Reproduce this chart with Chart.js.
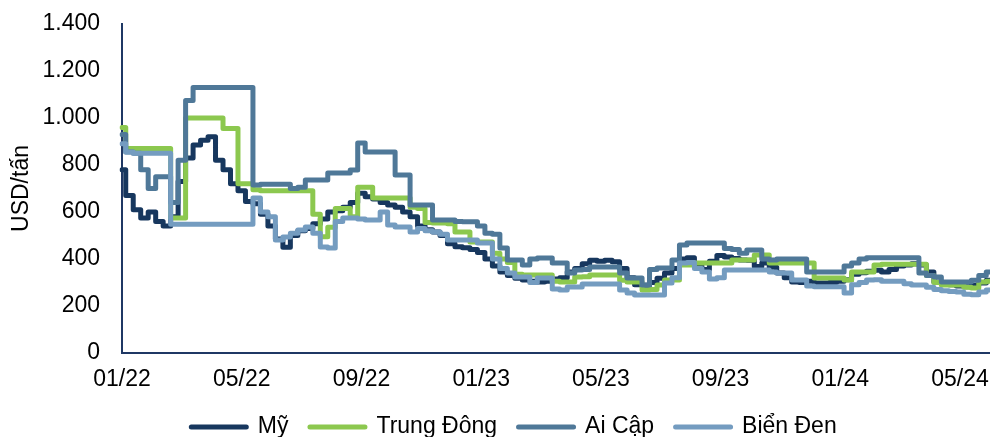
<!DOCTYPE html>
<html lang="vi">
<head>
<meta charset="utf-8">
<title>Giá theo khu vực</title>
<script src="https://cdn.jsdelivr.net/npm/chart.js@4.4.1/dist/chart.umd.min.js"></script>
<style>
  html, body { margin: 0; padding: 0; background: #fff; }
  #wrap { width: 990px; height: 437px; }
</style>
</head>
<body>
<div id="wrap"><canvas id="priceChart"></canvas></div>
<script>
// Weekly prices (USD/tấn), about four points per month, from 01/2022
const tickLabels = ['01/22', '05/22', '09/22', '01/23', '05/23', '09/23', '01/24', '05/24'];
const pointsPerTick = 16;

const my = [
  780, 670, 610, 575, 600, 560, 540, 580, 730, 830,
  885, 905, 920, 820, 780, 720, 690, 645, 635, 590,
  540, 485, 450, 500, 520, 530, 550, 570, 600, 605,
  620, 640, 680, 665, 655, 640, 630, 620, 600, 580,
  540, 525, 515, 500, 465, 452, 448, 440, 428, 400,
  370, 345, 330, 318, 311, 305, 302, 305, 315, 320,
  345, 360, 380, 395, 390, 395, 388, 360, 320, 290,
  288, 300, 318, 340, 360, 400, 405, 370, 355, 390,
  415, 408, 402, 396, 395, 368, 383, 365, 340, 320,
  302, 300, 305, 298, 298, 300, 305, 312, 335, 342,
  348, 352, 345, 355, 370, 375, 380, 375, 345, 302,
  298, 290, 285, 282, 288, 298, 310
];

const trungDong = [
  960, 870, 870, 870, 870, 870, 870, 575, 575, 1000,
  1000, 1000, 1000, 1000, 955, 955, 720, 720, 695, 690,
  690, 690, 690, 690, 690, 690, 590, 495, 535, 615,
  615, 580, 705, 705, 660, 660, 660, 660, 660, 620,
  615, 555, 553, 553, 550, 515, 515, 472, 472, 472,
  425, 400, 385, 335, 332, 332, 332, 332, 305, 302,
  302, 323, 325, 332, 332, 332, 332, 310, 302, 302,
  268, 270, 289, 311, 311, 374, 375, 383, 383, 383,
  383, 383, 396, 396, 396, 417, 417, 383, 383, 383,
  383, 383, 383, 319, 319, 319, 319, 311, 345, 345,
  345, 374, 378, 378, 378, 378, 378, 378, 330, 300,
  289, 289, 289, 280, 277, 302, 305
];

const aiCap = [
  930, 855, 850, 780, 700, 750, 750, 640, 820, 1075,
  1130, 1130, 1130, 1130, 1130, 1130, 1130, 1130, 715, 718,
  718, 718, 718, 700, 705, 736, 736, 736, 766, 766,
  766, 779, 894, 855, 855, 855, 855, 757, 757, 630,
  630, 630, 566, 566, 566, 560, 558, 558, 540, 510,
  505, 447, 396, 396, 374, 400, 404, 404, 383, 383,
  340, 353, 355, 366, 366, 366, 366, 340, 319, 319,
  289, 355, 362, 362, 396, 460, 468, 468, 468, 468,
  468, 445, 440, 425, 438, 438, 400, 396, 400, 400,
  400, 400, 345, 345, 345, 345, 345, 370, 383, 400,
  405, 405, 405, 405, 405, 405, 405, 340, 330, 323,
  302, 302, 302, 302, 310, 330, 345
];

const bienDen = [
  890, 855, 850, 850, 850, 850, 850, 548, 548, 548,
  548, 548, 548, 548, 548, 548, 548, 548, 660, 600,
  580, 481, 494, 510, 523, 536, 510, 451, 447, 560,
  575, 575, 570, 566, 566, 600, 545, 536, 536, 515,
  530, 520, 515, 505, 481, 481, 481, 481, 468, 468,
  400, 360, 340, 323, 323, 300, 319, 319, 272, 268,
  281, 281, 294, 294, 294, 294, 294, 268, 255, 247,
  247, 247, 247, 298, 320, 383, 385, 360, 345, 315,
  320, 353, 353, 353, 353, 353, 353, 345, 340, 340,
  311, 311, 285, 282, 282, 282, 282, 255, 290, 300,
  311, 312, 305, 305, 305, 295, 289, 289, 280, 270,
  265, 262, 260, 250, 248, 260, 268
];

const labels = my.map((_, i) => (i % pointsPerTick === 0 ? tickLabels[i / pointsPerTick] : ''));

const axisColor = '#1f3864';
Chart.defaults.font.family = "'Liberation Sans', Arial, sans-serif";
Chart.defaults.font.size = 23;
Chart.defaults.color = '#000';

function series(label, data, color, order) {
  return {
    label: label,
    data: data,
    borderColor: color,
    backgroundColor: color,
    borderWidth: 5,
    borderJoinStyle: 'round',
    borderCapStyle: 'round',
    pointRadius: 0,
    stepped: 'middle',
    order: order
  };
}

// nudge the legend row to the right, under the plot
const legendShift = {
  id: 'legendShift',
  afterLayout(chart) {
    const lg = chart.legend;
    if (!lg) return;
    lg.left += 19;
    lg.right += 19;
  }
};

new Chart(document.getElementById('priceChart'), {
  type: 'line',
  data: {
    labels: labels,
    datasets: [
      series('Mỹ', my, '#17375e', 4),
      series('Trung Đông', trungDong, '#8cc84f', 3),
      series('Ai Cập', aiCap, '#4f7898', 2),
      series('Biển Đen', bienDen, '#749cc0', 1)
    ]
  },
  options: {
    responsive: true,
    maintainAspectRatio: false,
    animation: false,
    events: [],
    layout: { padding: { top: 24, right: 0, left: 0, bottom: 0 } },
    plugins: {
      tooltip: { enabled: false },
      legend: {
        position: 'bottom',
        maxHeight: 43,
        labels: {
          usePointStyle: true,
          pointStyle: 'line',
          pointStyleWidth: 55,
          padding: 21.5,
          sort: (a, b) => a.datasetIndex - b.datasetIndex,
          generateLabels(chart) {
            return Chart.defaults.plugins.legend.labels.generateLabels(chart)
              .map(item => Object.assign(item, { lineWidth: 5, lineCap: 'round' }));
          }
        }
      }
    },
    scales: {
      x: {
        // hidden tick marks only reserve room between axis and labels
        grid: { display: false, drawTicks: true, tickLength: 13 },
        border: { display: true, color: axisColor, width: 2 },
        ticks: {
          autoSkip: false,
          maxRotation: 0,
          minRotation: 0,
          padding: 0
        },
        afterFit(scale) { scale.height = 41; }
      },
      y: {
        min: 0,
        max: 1400,
        grid: { display: false, drawTicks: true, tickLength: 22 },
        border: { display: true, color: axisColor, width: 2 },
        ticks: {
          stepSize: 200,
          padding: 0,
          callback: v => String(v).replace(/\B(?=(\d{3})+(?!\d))/g, '.')
        },
        title: {
          display: true,
          text: 'USD/tấn',
          padding: { top: 8, bottom: 0 }
        },
        afterFit(scale) { scale.width = 122; }
      }
    }
  },
  plugins: [legendShift]
});
</script>
</body>
</html>
